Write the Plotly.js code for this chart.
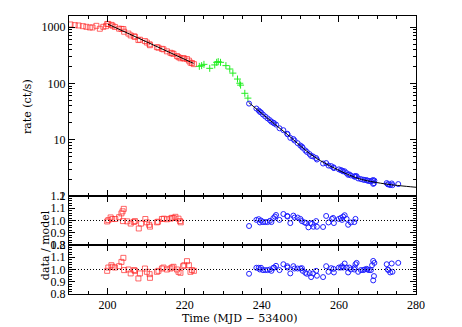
<!DOCTYPE html>
<html>
<head>
<meta charset="utf-8">
<script src="https://cdn.plot.ly/plotly-3.0.1.min.js"></script>
<style>html,body{margin:0;padding:0;background:#fff;}#plot{width:462px;height:327px;}</style>
</head>
<body>
<div id="plot"></div>
<script>
// ---- data ----
var redEarlyX = [190.4,191.5,192.5,193.6,194.5,195.4,196.1,197.1,198.0,198.9,199.6];
var redEarlyRate = [1120,1090,1075,1045,1018,991,991,1060,940,1018,1045];

var redX = [199.9,200.2,201.0,201.3,201.9,203.0,203.6,204.1,204.3,205.4,206.0,206.9,207.1,208.0,208.4,209.7,210.2,210.9,211.0,212.8,213.2,214.1,214.5,215.4,216.3,216.7,217.1,218.0,218.4,218.9,219.6,219.9,220.6,221.1,221.5,221.9,222.4];
var redRate = [1138,1146,1102,1064,1012,944,934,929,832,772,716,689,675,592,601,569,535,498,479,443,433,413,405,373,352,344,337,308,294,281,282,278,272,255,235,231,221];
var redRes2 = [0.989,1.016,1.035,1.022,1.016,1.027,1.062,1.095,0.995,1.0,0.968,0.995,0.989,0.927,0.968,1.008,0.981,0.962,0.932,0.981,0.989,1.008,1.016,1.0,1.008,1.016,1.022,1.0,0.981,0.973,1.027,1.035,1.068,1.035,0.981,0.995,0.989];

var redX1 = [199.9,200.2,200.8,201.2,202.0,203.0,203.6,203.9,204.2,204.0,205.1,206.0,206.8,207.1,208.1,208.7,209.8,210.2,210.8,211.0,212.8,213.1,214.1,214.6,215.4,216.3,216.7,217.1,217.6,218.4,218.8,219.0];
var redRes1 = [0.992,1.003,1.025,1.012,1.012,1.027,1.058,1.075,1.095,0.995,0.993,0.975,0.988,0.995,0.935,0.975,1.012,0.985,0.965,0.950,0.985,0.990,1.012,1.015,1.010,1.015,1.022,1.020,1.030,1.015,0.995,0.985];

var greenX = [223.8,224.4,225.0,226.5,227.8,228.3,228.7,229.3,230.7,231.7,232.5,233.7,234.3,234.5,235.6,236.4];
var greenRate = [202,208,219,186,214,238,245,238,208,181,153,120,101,93.5,67,55];

var blueX = [236.7,238.6,239.2,239.5,239.8,240.3,240.9,241.5,242.1,242.5,243.0,243.2,243.7,244.6,245.6,246.6,246.7,247.4,248.2,248.5,249.3,250.0,250.4,250.6,251.3,251.7,252.4,252.8,253.3,254.1,254.3,255.9,256.7,257.3,258.0,258.6,258.7,260.0,260.5,260.8,261.1,261.5,262.0,262.4,262.7,263.1,264.0,264.1,264.3,264.6,265.0,265.7,266.3,266.7,267.2,267.4,267.8,268.3,268.6,268.9,269.2,269.1,268.9,272.4,272.7,272.8,273.3,273.7,273.9,275.4];
var blueRate = [43.9,35.9,33.1,31.4,30.6,28.1,25.9,24.0,22.3,20.9,20.1,19.6,18.6,16.0,14.8,12.8,12.5,10.8,10.3,9.7,8.7,7.9,7.55,7.2,6.45,6.07,5.56,5.15,5.05,4.73,4.45,3.78,3.85,3.48,3.40,3.24,3.13,2.98,2.88,2.84,2.74,2.75,2.55,2.38,2.42,2.32,2.21,2.23,2.26,2.25,2.05,2.0,1.95,1.93,1.91,1.88,1.85,1.82,1.88,1.92,1.88,1.69,1.64,1.70,1.62,1.61,1.56,1.67,1.56,1.63];
var blueRes2 = [0.965,1.014,1.014,1.0,1.014,0.995,0.995,0.995,1.0,0.989,1.014,1.016,1.030,0.995,1.043,1.027,1.016,0.968,1.027,1.008,1.008,1.008,1.011,0.989,0.973,0.965,0.970,0.938,0.968,0.989,0.949,0.938,1.027,0.981,1.011,1.005,0.976,1.016,1.016,1.027,1.016,1.049,1.016,0.976,1.016,1.0,1.0,1.016,1.043,1.054,0.981,0.995,0.995,1.0,1.005,1.0,0.995,0.995,1.035,1.070,1.054,0.946,0.911,1.043,1.0,0.995,0.976,1.049,0.981,1.054];

var blueX1 = [236.7,238.6,239.2,239.5,239.8,240.3,240.9,241.5,242.1,242.5,243.0,243.4,243.7,244.6,245.6,246.6,246.7,247.4,248.2,248.5,249.3,250.0,250.4,251.1,251.5,252.1,252.6,253.0,253.4,254.1,254.3,255.9,256.7,257.3,258.2,258.5,258.7,260.0,260.5,260.8,261.1,261.5,262.0,262.4,263.1,264.0,264.3];
var blueRes1 = [0.955,1.005,1.011,0.984,1.0,0.987,0.987,0.987,0.997,0.987,1.019,1.032,1.045,1.005,1.053,1.037,1.032,0.979,1.040,1.024,1.024,1.013,0.995,0.984,0.979,0.944,0.979,0.973,0.949,0.995,0.949,0.947,1.037,0.984,1.013,1.021,0.979,1.013,1.021,1.005,1.032,1.043,1.013,0.965,0.984,0.987,1.013];

var model1X = [200.1,222.3];
var model1Y = [1135,228];
var model2X = [236.6,240.5,243.4,246.6,249.3,252.4,254.6,257.6,260.2,262.8,265.9,268.9,272.8,276.0,280.0];
var model2Y = [46.1,27.5,18.8,12.5,8.6,5.7,4.5,3.45,2.82,2.34,1.97,1.78,1.61,1.52,1.43];

var xTicks = [200,220,240,260,280];
var rateTicks = [1,10,100,1000];
var resTicks = [0.8,0.9,1.0,1.1,1.2];
var resTickText = ['0.8','0.9','1.0','1.1','1.2'];

// ---- styles ----
var RED = 'rgba(255,40,40,0.7)', BLUE = '#2020ff', GREEN = '#22ee22';
var sq = {symbol:'square-open', size:5, color:RED, line:{width:1}};
var ci = {symbol:'circle-open', size:5, color:BLUE, line:{width:1}};
var cr = {symbol:'cross-thin-open', size:5, color:GREEN, line:{width:1, color:GREEN}};

var traces = [
  {x:redEarlyX, y:redEarlyRate, mode:'markers', marker:sq, xaxis:'x', yaxis:'y'},
  {x:redX, y:redRate, mode:'markers', marker:sq, xaxis:'x', yaxis:'y'},
  {x:greenX, y:greenRate, mode:'markers', marker:cr, xaxis:'x', yaxis:'y'},
  {x:blueX, y:blueRate, mode:'markers', marker:ci, xaxis:'x', yaxis:'y'},
  {x:model1X, y:model1Y, mode:'lines', line:{color:'#000', width:1}, xaxis:'x', yaxis:'y'},
  {x:model2X, y:model2Y, mode:'lines', line:{color:'#000', width:1, shape:'spline', smoothing:0.8}, xaxis:'x', yaxis:'y'},
  {x:redX1, y:redRes1, mode:'markers', marker:sq, xaxis:'x2', yaxis:'y2'},
  {x:blueX1, y:blueRes1, mode:'markers', marker:ci, xaxis:'x2', yaxis:'y2'},
  {x:redX, y:redRes2, mode:'markers', marker:sq, xaxis:'x3', yaxis:'y3'},
  {x:blueX, y:blueRes2, mode:'markers', marker:ci, xaxis:'x3', yaxis:'y3'}
];

var FONT = {family:'Liberation Serif, serif', size:12, color:'#000'};
var TFONT = {family:'DejaVu Serif, serif', size:11, color:'#000'};
function xax(anchor, labels){
  return {range:[190,280], anchor:anchor, domain:[0,1], tickvals:xTicks, ticktext:xTicks.map(String),
    showticklabels:labels, ticks:'inside', ticklen:6, tickcolor:'#000', showline:true, mirror:'allticks',
    linecolor:'#000', linewidth:1, showgrid:false, zeroline:false, tickfont:FONT,
    minor:{dtick:5, tick0:190, ticks:'inside', ticklen:3, tickcolor:'#000', showgrid:false}};
}
function resax(domain, anchor){
  return {range:[0.8,1.2], domain:domain, anchor:anchor, tickvals:resTicks, ticktext:resTickText,
    ticks:'inside', ticklen:6, tickcolor:'#000', showline:true, mirror:'allticks', linecolor:'#000', linewidth:1,
    showgrid:false, zeroline:false, tickfont:FONT,
    minor:{dtick:0.02, tick0:0.8, ticks:'inside', ticklen:3, tickcolor:'#000', showgrid:false}};
}

var layout = {
  width:462, height:327, showlegend:false,
  margin:{l:69, r:46, t:16, b:33},
  paper_bgcolor:'#fff', plot_bgcolor:'#fff', font:FONT,
  xaxis: xax('y', false),
  xaxis2: Object.assign(xax('y2', false), {matches:'x'}),
  xaxis3: Object.assign(xax('y3', true), {matches:'x'}),
  yaxis: {type:'log', range:[0,3.2], domain:[0.3525,1], anchor:'x', tickvals:rateTicks, ticktext:rateTicks.map(String),
    ticks:'inside', ticklen:6, tickcolor:'#000', showline:true, mirror:'allticks', linecolor:'#000', linewidth:1,
    showgrid:false, zeroline:false, tickfont:FONT,
    minor:{dtick:'D1', ticks:'inside', ticklen:3, tickcolor:'#000', showgrid:false}},
  yaxis2: resax([0.1763,0.3525], 'x2'),
  yaxis3: resax([0,0.1763], 'x3'),
  shapes:[
    {type:'line', xref:'x2 domain', x0:0, x1:1, yref:'y2', y0:1, y1:1, line:{color:'#000', width:1, dash:'1px,2px'}},
    {type:'line', xref:'x3 domain', x0:0, x1:1, yref:'y3', y0:1, y1:1, line:{color:'#000', width:1, dash:'1px,2px'}}
  ],
  annotations:[
    {text:'rate (ct/s)', xref:'paper', yref:'paper', x:-0.118, y:0.673, textangle:-90, showarrow:false, font:TFONT, xanchor:'center', yanchor:'middle'},
    {text:'data / model', xref:'paper', yref:'paper', x:-0.069, y:0.176, textangle:-90, showarrow:false, font:TFONT, xanchor:'center', yanchor:'middle'},
    {text:'Time (MJD \u2212 53400)', xref:'paper', yref:'paper', x:0.493, y:-0.088, showarrow:false, font:TFONT, xanchor:'center', yanchor:'middle'}
  ]
};

Plotly.newPlot('plot', traces, layout, {displayModeBar:false, staticPlot:true});
</script>
</body>
</html>
